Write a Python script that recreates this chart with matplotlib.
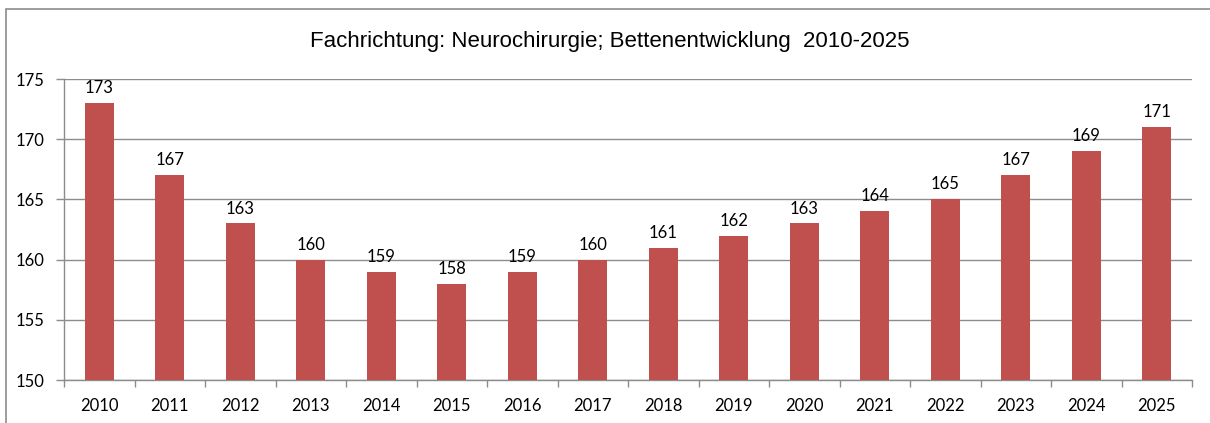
import matplotlib.pyplot as plt
from matplotlib.patches import Rectangle

# Data
YEARS = [str(y) for y in range(2010, 2026)]
BEDS = [173, 167, 163, 160, 159, 158, 159, 160, 161, 162, 163, 164, 165, 167, 169, 171]
Y_TICKS = [150, 155, 160, 165, 170, 175]
TITLE = "Fachrichtung: Neurochirurgie; Bettenentwicklung  2010-2025"

BAR_COLOR = "#C0504D"
GRID_COLOR = "#8C8C8C"

fig = plt.figure(figsize=(12.1, 4.23), dpi=100)
W, H = 1210, 423
ax = fig.add_axes([64 / W, 1 - 380 / H, (1192 - 64) / W, (380 - 79) / H])

x = list(range(len(YEARS)))
bars = ax.bar(x, BEDS, width=0.41, color=BAR_COLOR, zorder=3)
ax.bar_label(bars, labels=[str(v) for v in BEDS], padding=5,
             fontsize=12, family="Lato")

ax.set_xlim(-0.5, len(YEARS) - 0.5)
ax.set_ylim(150, 175)
ax.set_yticks(Y_TICKS)
ax.set_yticklabels([str(t) for t in Y_TICKS], fontsize=12, family="Lato")
ax.yaxis.grid(True, color=GRID_COLOR, linewidth=1.0, zorder=0)

# category labels between boundary ticks
ax.set_xticks([i - 0.5 for i in range(len(YEARS) + 1)])
ax.set_xticklabels([])
ax.set_xticks(x, minor=True)
ax.set_xticklabels(YEARS, minor=True, fontsize=12, family="Lato")
ax.tick_params(axis="x", which="minor", length=0, pad=13)
ax.tick_params(axis="x", which="major", length=5, color=GRID_COLOR, width=1)
ax.tick_params(axis="y", length=6, color=GRID_COLOR, width=1, pad=8)

for side in ["top", "right"]:
    ax.spines[side].set_visible(False)
for side in ["left", "bottom"]:
    ax.spines[side].set_color(GRID_COLOR)
    ax.spines[side].set_linewidth(1.0)

fig.text(610 / W, 1 - 42 / H, TITLE, ha="center", va="center",
         fontsize=16, family="Liberation Sans")

# chart border
fig.add_artist(Rectangle((6 / W, -0.1), 1.2, 1 - 9 / H + 0.1,
                         transform=fig.transFigure, fill=False,
                         edgecolor="#8C8C8C", linewidth=1.2))

fig.savefig("out.png", dpi=100)
